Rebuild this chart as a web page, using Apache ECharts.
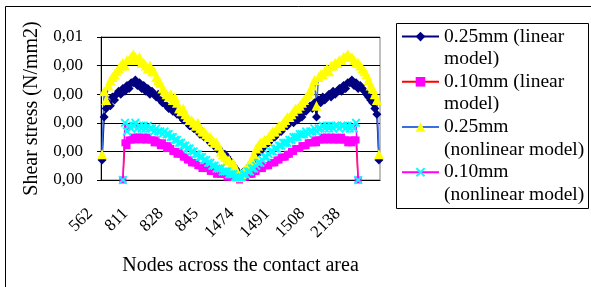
<!DOCTYPE html>
<html>
<head>
<meta charset="utf-8">
<script src="https://cdn.jsdelivr.net/npm/echarts@6/dist/echarts.min.js"></script>
<style>
  html, body { margin: 0; padding: 0; background: #fff; }
  #chart { width: 591px; height: 287px; }
</style>
</head>
<body>
<div id="chart"></div>
<script>
// node numbers across the contact area (only every 17th one is labelled)
const nodes = [562,
  795, 796, 797, 798, 799, 800, 801, 802, 803, 804, 805, 806, 807, 808, 809, 810,
  811, 812, 813, 814, 815, 816, 817, 818, 819, 820, 821, 822, 823, 824, 825, 826, 827,
  828, 829, 830, 831, 832, 833, 834, 835, 836, 837, 838, 839, 840, 841, 842, 843, 844,
  845, 846, 847, 848, 849, 850, 851, 852, 853, 854, 855, 856, 857, 858, 859, 860,
  1473, 1474, 1475, 1476, 1477, 1478, 1479, 1480, 1481, 1482, 1483, 1484, 1485, 1486, 1487, 1488,
  1489, 1490, 1491, 1492, 1493, 1494, 1495, 1496, 1497, 1498, 1499, 1500, 1501, 1502, 1503, 1504,
  1505, 1506, 1507, 1508, 1509, 1510, 1511, 1512, 1513, 1514, 1515, 1516, 1517, 1518, 1519, 1520,
  1521, 1522, 1523, 1524,
  2138, 2139, 2140, 2141, 2142, 2143, 2144, 2145, 2146, 2147, 2148, 2149, 2150, 2151, 2152];

// shear stress, N/mm2
const linear025 = [
  0.0007, 0.0022, 0.0025, 0.0027, 0.0026, 0.0029, 0.0028, 0.0030, 0.0031, 0.0030,
  0.0032, 0.0031, 0.0033, 0.0032, 0.0034, 0.0034, 0.0035, 0.0033, 0.0034, 0.0032,
  0.0033, 0.0031, 0.0032, 0.0030, 0.0031, 0.0030, 0.0029, 0.0030, 0.0028, 0.0027,
  0.0028, 0.0026, 0.0025, 0.0026, 0.0024, 0.0025, 0.0023, 0.0024, 0.0022, 0.0021,
  0.0022, 0.0020, 0.0019, 0.0020, 0.0018, 0.0018, 0.0017, 0.0016, 0.0017, 0.0015,
  0.0015, 0.0014, 0.0013, 0.0013, 0.0012, 0.0011, 0.0011, 0.0010, 0.0009, 0.0009,
  0.0008, 0.0007, 0.0006, 0.0005, 0.0004, 0.0003, 0.0002, 0.0002, 0.0003, 0.0003,
  0.0004, 0.0005, 0.0006, 0.0007, 0.0009, 0.0010, 0.0010, 0.0011, 0.0012, 0.0013,
  0.0013, 0.0014, 0.0015, 0.0015, 0.0016, 0.0017, 0.0017, 0.0018, 0.0019, 0.0019,
  0.0020, 0.0021, 0.0020, 0.0022, 0.0021, 0.0023, 0.0022, 0.0024, 0.0024, 0.0025,
  0.0026, 0.0025, 0.0027, 0.0022, 0.0028, 0.0027, 0.0029, 0.0028, 0.0029, 0.0030,
  0.0029, 0.0031, 0.0030, 0.0031, 0.0032, 0.0031, 0.0033, 0.0032, 0.0034, 0.0034,
  0.0035, 0.0033, 0.0034, 0.0032, 0.0033, 0.0032, 0.0031, 0.0030, 0.0029, 0.0028,
  0.0027, 0.0025, 0.0023, 0.0007];

const linear010 = [
  null, null, null, null, null, null, null, null, null, null,
  0, 0.0013, 0.0012, 0.0014, 0.0014, 0.0015, 0.0014, 0.0015, 0.0015, 0.0014,
  0.0015, 0.0014, 0.0015, 0.0014, 0.0014, 0.0013, 0.0014, 0.0013, 0.0012, 0.0013,
  0.0012, 0.0011, 0.0012, 0.0011, 0.0010, 0.0010, 0.0009, 0.0010, 0.0009, 0.0008,
  0.0008, 0.0007, 0.0007, 0.0006, 0.0006, 0.0006, 0.0005, 0.0005, 0.0004, 0.0005,
  0.0004, 0.0004, 0.0003, 0.0003, 0.0003, 0.0002, 0.0003, 0.0002, 0.0002, 0.0002,
  0.0001, 0.0002, 0.0001, 0.0001, 0.0001, 0.0001, 0.0000, 0.0001, 0.0001, 0.0001,
  0.0002, 0.0002, 0.0002, 0.0003, 0.0003, 0.0004, 0.0004, 0.0004, 0.0005, 0.0005,
  0.0005, 0.0006, 0.0006, 0.0006, 0.0007, 0.0007, 0.0008, 0.0008, 0.0008, 0.0009,
  0.0009, 0.0010, 0.0010, 0.0011, 0.0011, 0.0011, 0.0012, 0.0012, 0.0012, 0.0013,
  0.0013, 0.0013, 0.0014, 0.0013, 0.0014, 0.0014, 0.0015, 0.0014, 0.0015, 0.0014,
  0.0015, 0.0014, 0.0015, 0.0014, 0.0014, 0.0015, 0.0014, 0.0014, 0.0013, 0.0014,
  0.0013, 0.0014, 0.0014, 0,      null, null, null, null, null, null,
  null, null, null, null];

const nonlinear025 = [
  0.0009, 0.0031, 0.0028, 0.0033, 0.0035, 0.0036, 0.0037, 0.0038, 0.0039, 0.0040,
  0.0041, 0.0040, 0.0042, 0.0042, 0.0043, 0.0044, 0.0043, 0.0042, 0.0043, 0.0041,
  0.0041, 0.0040, 0.0039, 0.0040, 0.0038, 0.0038, 0.0036, 0.0035, 0.0034, 0.0032,
  0.0031, 0.0030, 0.0029, 0.0030, 0.0028, 0.0029, 0.0027, 0.0025, 0.0024, 0.0025,
  0.0023, 0.0022, 0.0021, 0.0021, 0.0020, 0.0019, 0.0020, 0.0018, 0.0017, 0.0017,
  0.0016, 0.0015, 0.0015, 0.0014, 0.0013, 0.0013, 0.0012, 0.0010, 0.0009, 0.0008,
  0.0007, 0.0007, 0.0005, 0.0006, 0.0004, 0.0003, 0.0001, 0.0002, 0.0003, 0.0004,
  0.0004, 0.0006, 0.0007, 0.0009, 0.0011, 0.0012, 0.0013, 0.0013, 0.0014, 0.0014,
  0.0015, 0.0016, 0.0017, 0.0017, 0.0018, 0.0019, 0.0019, 0.0020, 0.0021, 0.0022,
  0.0022, 0.0023, 0.0024, 0.0025, 0.0025, 0.0026, 0.0027, 0.0028, 0.0029, 0.0030,
  0.0031, 0.0033, 0.0035, 0.0026, 0.0036, 0.0037, 0.0037, 0.0038, 0.0039, 0.0038,
  0.0040, 0.0040, 0.0041, 0.0041, 0.0042, 0.0042, 0.0043, 0.0043, 0.0044, 0.0043,
  0.0043, 0.0042, 0.0041, 0.0041, 0.0040, 0.0039, 0.0038, 0.0037, 0.0035, 0.0033,
  0.0032, 0.0030, 0.0028, 0.0009];

const nonlinear010 = [
  null, null, null, null, null, null, null, null, null, null,
  0, 0.0020, 0.0017, 0.0019, 0.0018, 0.0019, 0.0020, 0.0018, 0.0019, 0.0018,
  0.0019, 0.0018, 0.0019, 0.0018, 0.0018, 0.0017, 0.0018, 0.0017, 0.0017, 0.0016,
  0.0017, 0.0016, 0.0016, 0.0015, 0.0015, 0.0014, 0.0014, 0.0013, 0.0013, 0.0012,
  0.0012, 0.0011, 0.0011, 0.0010, 0.0010, 0.0009, 0.0009, 0.0008, 0.0008, 0.0007,
  0.0007, 0.0006, 0.0006, 0.0005, 0.0005, 0.0004, 0.0004, 0.0004, 0.0003, 0.0003,
  0.0003, 0.0002, 0.0002, 0.0002, 0.0001, 0.0001, 0.0001, 0.0001, 0.0002, 0.0002,
  0.0003, 0.0003, 0.0004, 0.0004, 0.0005, 0.0006, 0.0006, 0.0007, 0.0008, 0.0008,
  0.0009, 0.0010, 0.0010, 0.0011, 0.0011, 0.0012, 0.0012, 0.0013, 0.0013, 0.0013,
  0.0014, 0.0014, 0.0015, 0.0015, 0.0015, 0.0016, 0.0016, 0.0016, 0.0017, 0.0016,
  0.0017, 0.0017, 0.0018, 0.0017, 0.0018, 0.0018, 0.0019, 0.0018, 0.0019, 0.0018,
  0.0019, 0.0018, 0.0019, 0.0019, 0.0018, 0.0019, 0.0019, 0.0018, 0.0019, 0.0018,
  0.0019, 0.0018, 0.0020, 0,      null, null, null, null, null, null,
  null, null, null, null];

const seriesNames = [
  '0.25mm (linear\nmodel)',
  '0.10mm (linear\nmodel)',
  '0.25mm\n(nonlinear model)',
  '0.10mm\n(nonlinear model)'
];

const FONT = '"Liberation Serif", "Times New Roman", serif';
// filled X marker
const crossPath = 'path://M0,1.5L1.5,0L5,3.5L8.5,0L10,1.5L6.5,5L10,8.5L8.5,10L5,6.5L1.5,10L0,8.5L3.5,5Z';

function lineSeries(name, data, symbol, size, fill, lineColor) {
  return {
    name: name,
    type: 'line',
    data: data,
    symbol: symbol,
    symbolSize: size,
    showAllSymbol: true,
    connectNulls: false,
    animation: false,
    itemStyle: { color: fill, borderColor: fill, borderWidth: 0 },
    lineStyle: { color: lineColor, width: 1.5 }
  };
}

const myChart = echarts.init(document.getElementById('chart'));
myChart.setOption({
  backgroundColor: '#fff',
  animation: false,
  grid: {
    left: 101, top: 37, right: 211, bottom: 107,
    show: true, borderColor: '#808080', borderWidth: 1
  },
  xAxis: {
    type: 'category',
    data: nodes,
    boundaryGap: true,
    name: 'Nodes across the contact area',
    nameLocation: 'middle',
    nameGap: 76,
    nameMoveOverlap: false,
    nameTextStyle: { fontFamily: FONT, fontSize: 20, color: '#000' },
    axisLine: { lineStyle: { color: '#000', width: 1 } },
    axisTick: { interval: 0, length: 5, lineStyle: { color: '#333' } },
    axisLabel: {
      interval: 16, rotate: 45, margin: 19,
      padding: [0, 17, 0, 0],
      fontFamily: FONT, fontSize: 17, color: '#000'
    },
    splitLine: { show: false }
  },
  yAxis: {
    type: 'value',
    min: 0, max: 0.005, interval: 0.001,
    name: 'Shear stress (N/mm2)',
    nameLocation: 'middle',
    nameRotate: 90,
    nameGap: 59,
    nameTextStyle: { fontFamily: FONT, fontSize: 20, color: '#000' },
    axisLine: { show: true, lineStyle: { color: '#000', width: 1 } },
    axisTick: { show: true, length: 4, lineStyle: { color: '#000' } },
    axisLabel: {
      margin: 18, fontFamily: FONT, fontSize: 17, color: '#000',
      formatter: v => (Math.round(v * 100) / 100).toFixed(2).replace('.', ',')
    },
    splitLine: { lineStyle: { color: '#000', width: 1 } }
  },
  legend: {
    orient: 'vertical',
    left: 401, top: 3,
    padding: 0,
    itemWidth: 37, itemHeight: 12, itemGap: -22,
    // blank first line so the marker sits beside the first text line
    formatter: name => '\n' + name,
    textStyle: {
      fontFamily: FONT, fontSize: 19.5, color: '#000', lineHeight: 22.4
    },
    data: seriesNames
  },
  graphic: [
    // outer chart frame
    { type: 'rect', shape: { x: 5.5, y: 6.5, width: 620, height: 320 },
      style: { fill: null, stroke: '#000', lineWidth: 1 }, silent: true },
    // legend frame
    { type: 'rect', shape: { x: 396.5, y: 23.5, width: 192, height: 185 },
      style: { fill: null, stroke: '#000', lineWidth: 1 }, silent: true }
  ],
  series: [
    lineSeries(seriesNames[0], linear025, 'diamond', 9, '#000080', '#000080'),
    lineSeries(seriesNames[1], linear010, 'rect', 7, '#FF00FF', '#FF0000'),
    lineSeries(seriesNames[2], nonlinear025, 'triangle', 10, '#FFFF00', '#3A6FE0'),
    lineSeries(seriesNames[3], nonlinear010, crossPath, 9, '#00FFFF', '#FF00FF')
  ]
});
</script>
</body>
</html>
